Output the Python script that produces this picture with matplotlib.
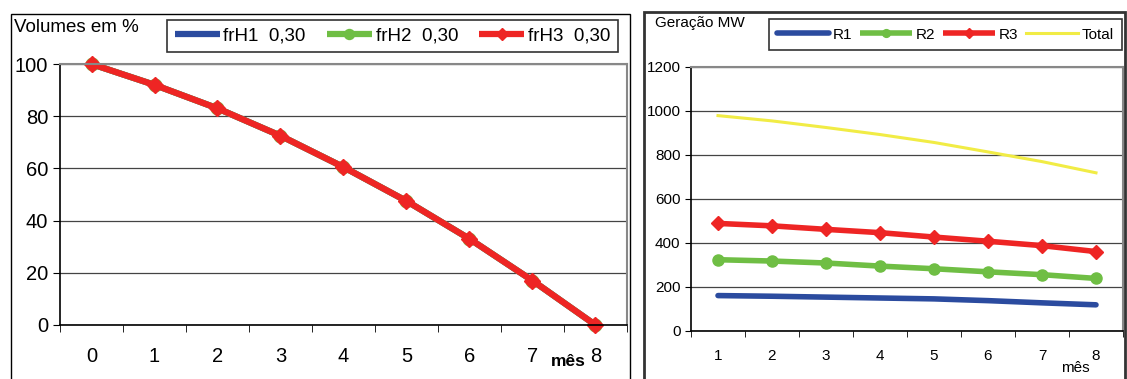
import matplotlib.pyplot as plt
from matplotlib.patches import Rectangle

plt.rcParams['font.family'] = ['Liberation Sans', 'DejaVu Sans']

# left chart: volumes (%)
meses_vol = [0, 1, 2, 3, 4, 5, 6, 7, 8]
vol_h1 = [100, 92, 83, 72.5, 60.5, 47.5, 33, 17, 0]
vol_h2 = [100, 92, 83, 72.5, 60.5, 47.5, 33, 17, 0]
vol_h3 = [100, 92, 83, 72.5, 60.5, 47.5, 33, 17, 0]
vol_labels = ['frH1  0,30', 'frH2  0,30', 'frH3  0,30']

# right chart: generation (MW)
meses_ger = [1, 2, 3, 4, 5, 6, 7, 8]
ger_r1 = [161, 158, 154, 150, 146, 138, 128, 119]
ger_r2 = [324, 318, 309, 295, 283, 269, 256, 239]
ger_r3 = [489, 478, 462, 447, 427, 408, 388, 361]
ger_total = [979, 955, 925, 893, 857, 814, 770, 719]
ger_labels = ['R1', 'R2', 'R3', 'Total']

azul = '#2b4b9f'
verde = '#6fbe44'
vermelho = '#ee2524'
amarelo = '#f1ec45'

W, H = 1127, 379
fig = plt.figure(figsize=(W / 100, H / 100), dpi=100)

def fx(px):
    return px / W

def fy(py):
    return 1 - py / H

# panel frames
fig.patches.append(Rectangle((fx(11), fy(400)), fx(630 - 11), fy(14) - fy(400),
                             transform=fig.transFigure, fill=False, ec='black', lw=1.0))
fig.patches.append(Rectangle((fx(644), fy(400)), fx(1125 - 644), fy(12) - fy(400),
                             transform=fig.transFigure, fill=False, ec='#333333', lw=2))

def style_axes(ax):
    for s in ['top', 'right']:
        ax.spines[s].set_color('#888888')
        ax.spines[s].set_linewidth(1.5)
    for s in ['left', 'bottom']:
        ax.spines[s].set_color('black')
        ax.spines[s].set_linewidth(1.2)
    ax.grid(axis='y', color='#444444', lw=0.9)
    ax.set_axisbelow(True)

# ---- left chart
ax1 = fig.add_axes([fx(60), fy(325), fx(627 - 60), fy(64) - fy(325)])
ax1.plot(meses_vol, vol_h1, color=azul, lw=4.5, label=vol_labels[0], solid_capstyle='butt')
ax1.plot(meses_vol, vol_h2, color=verde, lw=4.5, marker='o', ms=9, label=vol_labels[1],
         solid_capstyle='butt')
ax1.plot(meses_vol, vol_h3, color=vermelho, lw=4.5, marker='D', ms=8, label=vol_labels[2],
         solid_capstyle='butt')
ax1.set_ylim(0, 100)
ax1.set_yticks([0, 20, 40, 60, 80, 100])
ax1.set_xlim(-0.5, 8.5)
ax1.set_xticks(meses_vol)
ax1.set_xticks([k - 0.5 for k in range(10)], minor=True)
ax1.tick_params(axis='x', which='major', length=0, pad=16, labelsize=14.5)
ax1.tick_params(axis='x', which='minor', length=5, direction='out')
ax1.tick_params(axis='y', length=5, labelsize=14.5)
style_axes(ax1)
for ln in ax1.lines:
    ln.set_clip_on(False)
fig.text(fx(14), fy(28), 'Volumes em %', fontsize=13.5, va='center', ha='left')
fig.text(fx(551), fy(362), 'mês', fontsize=12.5, fontweight='bold', va='center', ha='left')
h1, l1 = ax1.get_legend_handles_labels()
leg1 = fig.legend(h1, l1, loc='lower left', mode='expand', ncol=3,
                  bbox_to_anchor=(fx(167), fy(52), fx(618 - 167), fy(14) - fy(52)),
                  frameon=True, fancybox=False, edgecolor='black', fontsize=13.5,
                  handlelength=2.4, handletextpad=0.2, borderaxespad=0, borderpad=0.4,
                  columnspacing=0.4, markerscale=0.8)
leg1.get_frame().set_linewidth(1.2)

# ---- right chart
ax2 = fig.add_axes([fx(691), fy(331), fx(1123 - 691), fy(67) - fy(331)])
ax2.plot(meses_ger, ger_r1, color=azul, lw=4, label=ger_labels[0], solid_capstyle='round')
ax2.plot(meses_ger, ger_r2, color=verde, lw=4, marker='o', ms=8, label=ger_labels[1],
         solid_capstyle='butt')
ax2.plot(meses_ger, ger_r3, color=vermelho, lw=4, marker='D', ms=7, label=ger_labels[2],
         solid_capstyle='butt')
ax2.plot(meses_ger, ger_total, color=amarelo, lw=2.2, label=ger_labels[3])
ax2.set_ylim(0, 1200)
ax2.set_yticks([0, 200, 400, 600, 800, 1000, 1200])
ax2.set_xlim(0.5, 8.5)
ax2.set_xticks(meses_ger)
ax2.set_xticks([k + 0.5 for k in range(9)], minor=True)
ax2.tick_params(axis='x', which='major', length=0, pad=13, labelsize=11)
ax2.tick_params(axis='x', which='minor', length=4, direction='out')
ax2.tick_params(axis='y', length=4, labelsize=11)
style_axes(ax2)
fig.text(fx(655), fy(23), 'Geração MW', fontsize=11, va='center', ha='left')
fig.text(fx(1061), fy(368), 'mês', fontsize=11, va='center', ha='left')
h2, l2 = ax2.get_legend_handles_labels()
leg2 = fig.legend(h2, l2, loc='lower left', mode='expand', ncol=4,
                  bbox_to_anchor=(fx(769), fy(50), fx(1122 - 769), fy(13) - fy(50)),
                  frameon=True, fancybox=False, edgecolor='black', fontsize=11,
                  handlelength=3.4, handletextpad=0.2, borderaxespad=0, borderpad=0.55,
                  columnspacing=0.6, markerscale=0.7)
leg2.get_frame().set_linewidth(1.2)

fig.savefig('out.png', dpi=100)
